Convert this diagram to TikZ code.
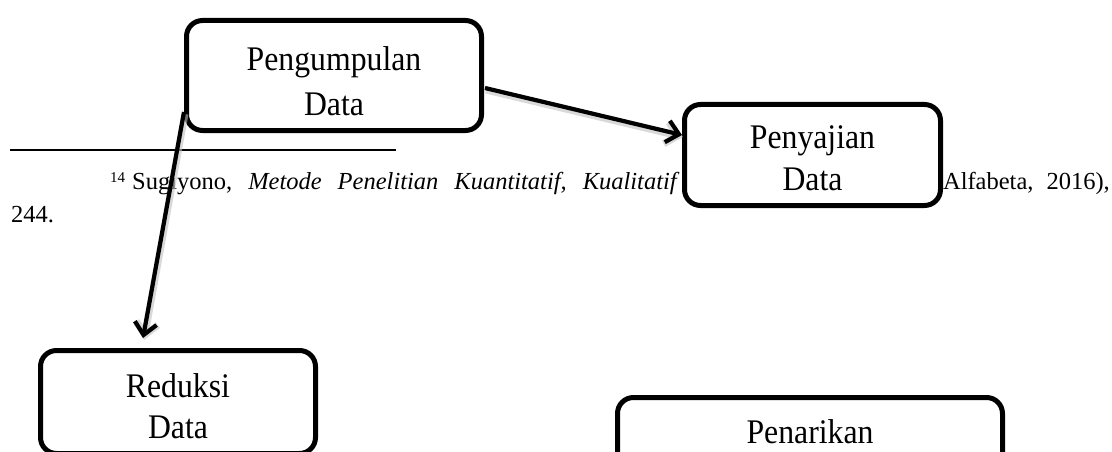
\documentclass[tikz,border=0pt]{standalone}
\usepackage{fontspec}
\setmainfont{Liberation Serif}
\newfontfamily\boxfont[FakeStretch=0.92]{Liberation Serif}
\usetikzlibrary{arrows.meta,calc}

\begin{document}
\begin{tikzpicture}[x=1pt,y=1pt,
  procbox/.style={draw=black, line width=5pt, rounded corners=16pt, fill=white, inner sep=0pt},
  boxtext/.style={font=\boxfont\fontsize{34.5}{40}\selectfont, anchor=base, inner sep=0pt},
  note/.style={font=\fontsize{24.5}{29}\selectfont, anchor=base west, inner sep=0pt},
  notemark/.style={font=\fontsize{15}{18}\selectfont, anchor=base west, inner sep=0pt},
  flow/.style={line width=4.2pt, -{Straight Barb[length=12pt,width=22pt]},
    preaction={draw=black!25, line width=7pt, opacity=0.6,
      transform canvas={shift={(1pt,-2pt)}}}},
  footrule/.style={line width=2.2pt},
]
\useasboundingbox (0,0) rectangle (1112,-452);
\begin{scope}
\clip (0,0) rectangle (1112,-452);

% footnote (lies behind the diagram)
\coordinate (rl) at (10,-150);
\coordinate (rr) at (396,-150);
\draw[footrule] (rl) -- (rr);
\node[notemark] (fnmark) at (110,-182) {14};
\node[note] (fnleft) at (132,-189) {\spaceskip=16pt\relax Sugiyono, \textit{Metode Penelitian Kuantitatif, Kualitatif}};
\node[note, anchor=base east] (fnright) at (1110,-189) {\spaceskip=13pt\relax Alfabeta, 2016),};
\node[note] (fnpage) at (11,-222) {244.};

% boxes
\node[procbox, minimum width=295pt, minimum height=110pt] (p1) at (334,-75.5) {};
\node[procbox, minimum width=256pt, minimum height=101pt] (p2) at (812.5,-155) {};
\node[procbox, minimum width=275pt, minimum height=103pt] (p3) at (178,-402) {};
\node[procbox, minimum width=385pt, minimum height=110pt] (p4) at (810,-452.5) {};

% box texts
\node[boxtext] (p1a) at (334,-71) {Pengumpulan};
\node[boxtext] (p1b) at (334,-115) {Data};
\node[boxtext] (p2a) at (812.5,-148) {Penyajian};
\node[boxtext] (p2b) at (812.5,-190) {Data};
\node[boxtext] (p3a) at (178,-397) {Reduksi};
\node[boxtext] (p3b) at (178,-438) {Data};
\node[boxtext] (p4a) at (810,-443) {Penarikan};

% connectors
\draw[flow] ($(p1.east)+(1,-12.5)$) -- ($(p2.west)+(0,20)$);
\draw[flow] ($(p1.west)+(0,-36.5)$) -- ($(p3.north)+(-35,10)$);
\end{scope}
\end{tikzpicture}
\end{document}
